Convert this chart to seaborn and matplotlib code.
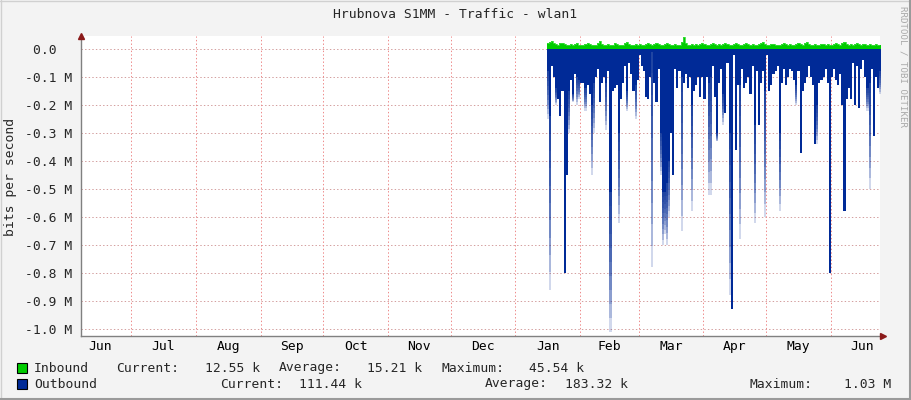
"""
RRD-style traffic graph for wlan1 on Hrubnova S1MM.
Inbound drawn above zero, outbound mirrored below zero.
"""

import pandas as pd
import matplotlib
matplotlib.use('Agg')
import matplotlib.pyplot as plt
import matplotlib.dates as mdates
from matplotlib.lines import Line2D
from matplotlib.patches import Rectangle
import seaborn as sns


# ── Data ───────────────────────────────────────────────────────────────────────

x_start    = '2012-06-07'
x_end      = '2013-06-24 12:00'
data_start = '2013-01-16'

# daily inbound rate, Mbit/s (positive side)
inbound = [
    0.020, 0.026, 0.030, 0.022, 0.018, 0.016, 0.020, 0.023, 0.017, 0.015,
    0.016, 0.019, 0.014, 0.018, 0.021, 0.016, 0.013, 0.015, 0.019, 0.022,
    0.017, 0.015, 0.014, 0.016, 0.020, 0.027, 0.018, 0.016, 0.015, 0.018,
    0.014, 0.016, 0.021, 0.017, 0.015, 0.013, 0.016, 0.020, 0.024, 0.018,
    0.016, 0.014, 0.017, 0.015, 0.019, 0.016, 0.014, 0.017, 0.020, 0.017,
    0.015, 0.019, 0.022, 0.019, 0.016, 0.014, 0.017, 0.021, 0.018, 0.016,
    0.015, 0.017, 0.014, 0.016, 0.026, 0.044, 0.020, 0.016, 0.015, 0.018,
    0.016, 0.019, 0.015, 0.017, 0.022, 0.018, 0.015, 0.014, 0.017, 0.020,
    0.018, 0.016, 0.019, 0.015, 0.017, 0.023, 0.019, 0.016, 0.014, 0.017,
    0.021, 0.018, 0.016, 0.015, 0.018, 0.020, 0.017, 0.015, 0.019, 0.016,
    0.014, 0.017, 0.020, 0.024, 0.018, 0.016, 0.015, 0.017, 0.019, 0.016,
    0.014, 0.016, 0.018, 0.021, 0.017, 0.015, 0.019, 0.016, 0.014, 0.017,
    0.020, 0.018, 0.016, 0.022, 0.025, 0.019, 0.016, 0.015, 0.017, 0.014,
    0.016, 0.019, 0.017, 0.015, 0.018, 0.016, 0.014, 0.017, 0.020, 0.018,
    0.016, 0.021, 0.024, 0.019, 0.016, 0.018, 0.015, 0.017, 0.020, 0.018,
    0.016, 0.019, 0.017, 0.015, 0.018, 0.016, 0.014, 0.017, 0.015, 0.013,
]

# daily outbound average (solid part), Mbit/s, mirrored negative
out_solid = [
    -0.08, -0.24, -0.06, -0.10, -0.14, -0.18, -0.24, -0.15, -0.80, -0.45,
    -0.15, -0.11, -0.16, -0.09, -0.10, -0.11, -0.12, -0.12, -0.14, -0.13,
    -0.16, -0.20, -0.12, -0.10, -0.07, -0.19, -0.12, -0.10, -0.12, -0.08,
    -0.51, -0.15, -0.14, -0.13, -0.30, -0.18, -0.12, -0.06, -0.15, -0.05,
    -0.09, -0.15, -0.13, -0.11, -0.02, -0.06, -0.08, -0.17, -0.18, -0.10,
    -0.01, -0.12, -0.19, -0.07, -0.30, -0.51, -0.51, -0.48, -0.40, -0.30,
    -0.45, -0.07, -0.14, -0.08, -0.10, -0.12, -0.09, -0.14, -0.10, -0.20,
    -0.15, -0.13, -0.10, -0.17, -0.10, -0.18, -0.10, -0.12, -0.10, -0.06,
    -0.17, -0.30, -0.12, -0.07, -0.16, -0.23, -0.05, -0.30, -0.93, -0.02,
    -0.36, -0.13, -0.13, -0.07, -0.14, -0.12, -0.10, -0.16, -0.06, -0.27,
    -0.08, -0.27, -0.12, -0.08, -0.15, -0.02, -0.15, -0.13, -0.09, -0.08,
    -0.06, -0.30, -0.12, -0.07, -0.13, -0.10, -0.07, -0.08, -0.11, -0.13,
    -0.08, -0.37, -0.15, -0.12, -0.10, -0.06, -0.10, -0.13, -0.34, -0.20,
    -0.12, -0.11, -0.10, -0.07, -0.12, -0.80, -0.10, -0.07, -0.11, -0.13,
    -0.09, -0.20, -0.58, -0.18, -0.14, -0.18, -0.05, -0.20, -0.06, -0.21,
    -0.07, -0.04, -0.10, -0.14, -0.12, -0.07, -0.31, -0.10, -0.14, -0.08,
]

# daily outbound peak (faded tail below the solid part), Mbit/s
out_fade = [
    -0.25, -0.86, -0.06, -0.10, -0.20, -0.18, -0.24, -0.15, -0.80, -0.45,
    -0.30, -0.11, -0.19, -0.09, -0.20, -0.18, -0.12, -0.12, -0.22, -0.13,
    -0.16, -0.45, -0.30, -0.10, -0.07, -0.19, -0.12, -0.10, -0.29, -0.08,
    -1.01, -0.15, -0.14, -0.13, -0.62, -0.18, -0.12, -0.06, -0.22, -0.05,
    -0.09, -0.15, -0.25, -0.11, -0.02, -0.06, -0.08, -0.17, -0.18, -0.10,
    -0.78, -0.12, -0.19, -0.07, -0.45, -0.70, -0.66, -0.70, -0.60, -0.30,
    -0.45, -0.07, -0.14, -0.08, -0.65, -0.12, -0.09, -0.14, -0.10, -0.58,
    -0.15, -0.13, -0.10, -0.17, -0.10, -0.18, -0.10, -0.52, -0.52, -0.06,
    -0.17, -0.33, -0.12, -0.07, -0.27, -0.23, -0.05, -0.88, -0.93, -0.02,
    -0.36, -0.13, -0.68, -0.07, -0.14, -0.12, -0.10, -0.16, -0.06, -0.62,
    -0.08, -0.27, -0.12, -0.08, -0.60, -0.02, -0.15, -0.13, -0.09, -0.08,
    -0.06, -0.58, -0.12, -0.07, -0.13, -0.10, -0.07, -0.08, -0.11, -0.20,
    -0.08, -0.37, -0.15, -0.12, -0.10, -0.06, -0.10, -0.13, -0.34, -0.34,
    -0.12, -0.11, -0.10, -0.07, -0.12, -0.80, -0.10, -0.07, -0.11, -0.13,
    -0.09, -0.20, -0.58, -0.18, -0.14, -0.18, -0.05, -0.20, -0.06, -0.21,
    -0.07, -0.04, -0.10, -0.22, -0.50, -0.07, -0.31, -0.10, -0.14, -0.16,
]

y_ticks       = [0.0, -0.1, -0.2, -0.3, -0.4, -0.5, -0.6, -0.7, -0.8, -0.9, -1.0]
y_tick_labels = ['0.0  ', '-0.1 M', '-0.2 M', '-0.3 M', '-0.4 M', '-0.5 M',
                 '-0.6 M', '-0.7 M', '-0.8 M', '-0.9 M', '-1.0 M']
month_labels  = ['Jun', 'Jul', 'Aug', 'Sep', 'Oct', 'Nov', 'Dec',
                 'Jan', 'Feb', 'Mar', 'Apr', 'May', 'Jun']

legend_rows = [
    ('Inbound',  '#00CC00', [('Current:', 116), ('12.55 k', 205), ('Average:', 279),
                             ('15.21 k', 367), ('Maximum:', 441), ('45.54 k', 529)]),
    ('Outbound', '#002A97', [('Current:', 220), ('111.44 k', 299), ('Average:', 485),
                             ('183.32 k', 565), ('Maximum:', 750), ('1.03 M', 844)]),
]

TITLE   = 'Hrubnova S1MM - Traffic - wlan1'
YLABEL  = 'bits per second'
GREEN   = '#00CC00'
BLUE    = '#002A97'
W, H    = 911, 400


# ── Helpers ────────────────────────────────────────────────────────────────────

def _fig_xy(px, py):
    """Pixel position (from top-left) to figure fraction."""
    return px / W, 1 - py / H


# ── Figure ─────────────────────────────────────────────────────────────────────

sns.set_style('white')
plt.rcParams['font.family'] = ['DejaVu Sans Mono']
FS = 9.4

fig = plt.figure(figsize=(W / 100, H / 100), dpi=100, facecolor='#F3F3F3')
ax = fig.add_axes([81 / W, 1 - 336 / H, (880 - 81) / W, (336 - 36) / H])
ax.set_facecolor('white')

edges = pd.date_range(data_start, periods=len(inbound) + 1, freq='D')
frame = pd.DataFrame({
    'date':      edges,
    'inbound':   inbound + inbound[-1:],
    'out_solid': out_solid + out_solid[-1:],
    'out_fade':  out_fade + out_fade[-1:],
})

# grid (under the data), small dots
dot = (0, (1.4, 2.2))
for yv in y_ticks:
    ax.axhline(yv, color='#D4A0A0', lw=0.72, ls=dot, zorder=0)
month_starts = pd.date_range('2012-06-01', '2013-07-01', freq='MS')
for ms in month_starts:
    ax.axvline(ms, color='#EE8C8C', lw=0.72, ls=dot, zorder=0)

# inbound (positive)
ax.fill_between(frame['date'], 0, frame['inbound'], step='post',
                color=GREEN, lw=0, zorder=2)
sns.lineplot(data=frame, x='date', y='inbound', drawstyle='steps-post',
             color='#3BDD3B', lw=0.6, ax=ax, zorder=3)

# outbound faded tails: stacked translucent layers give a top-dark gradient
n_layers = 10
for k in range(1, n_layers + 1):
    tail = frame['out_solid'] + (frame['out_fade'] - frame['out_solid']) * k / n_layers
    ax.fill_between(frame['date'], frame['out_solid'], tail, step='post',
                    color=BLUE, alpha=0.18, lw=0, zorder=2)

# outbound solid body
ax.fill_between(frame['date'], 0, frame['out_solid'], step='post',
                color=BLUE, lw=0, zorder=2)

# ── Axes styling ───────────────────────────────────────────────────────────────

ax.set_xlim(pd.Timestamp(x_start), pd.Timestamp(x_end))
ax.set_ylim(-1.025, 0.0464)
ax.set_xlabel('')
ax.set_ylabel('')

ax.set_yticks(y_ticks)
ax.set_yticklabels(y_tick_labels, fontsize=FS)

ax.xaxis.set_major_locator(mdates.MonthLocator())
ax.xaxis.set_major_formatter(plt.NullFormatter())
month_mids = month_starts[:-1] + (month_starts[1:] - month_starts[:-1]) / 2
ax.set_xticks(month_mids, minor=True)
ax.set_xticklabels(month_labels, minor=True, fontsize=FS)

ax.tick_params(axis='x', which='major', length=3, width=0.8, color='#C09090', direction='out')
ax.tick_params(axis='x', which='minor', length=0, pad=3, colors='#000000')
ax.tick_params(axis='y', length=2, width=0.8, color='#808080', pad=4, direction='out')

for side in ['top', 'right']:
    ax.spines[side].set_visible(False)
for side in ['left', 'bottom']:
    ax.spines[side].set_color('#808080')
    ax.spines[side].set_linewidth(1.0)
    ax.spines[side].set_zorder(5)

# axis arrowheads
ax.plot([0], [1], marker='^', ms=4.5, color='#8B1A1A', transform=ax.transAxes,
        clip_on=False, zorder=6)
ax.plot([1.004], [0], marker='>', ms=4.5, color='#8B1A1A', transform=ax.transAxes,
        clip_on=False, zorder=6)

# ── Text and legend ────────────────────────────────────────────────────────────

fig.text(*_fig_xy(455, 14), TITLE, ha='center', va='center', fontsize=FS)
fig.text(*_fig_xy(11, 177), YLABEL, ha='center', va='center', rotation=90, fontsize=FS)
fig.text(*_fig_xy(903, 6), 'RRDTOOL / TOBI OETIKER', ha='center', va='top',
         rotation=270, fontsize=6.6, color='#AAAAAA')

for row, (name, color, items) in enumerate(legend_rows):
    yc = 368 + row * 16
    x0, y0 = _fig_xy(17, yc + 5)
    fig.patches.append(Rectangle((x0, y0), 10 / W, 10 / H, transform=fig.transFigure,
                                 facecolor=color, edgecolor='black', lw=0.8))
    fig.text(*_fig_xy(34, yc), name, ha='left', va='center', fontsize=FS)
    for label, px in items:
        fig.text(*_fig_xy(px, yc), label, ha='left', va='center', fontsize=FS)

# frame around the image
fig.add_artist(Line2D([0, 1], [1 - 0.5 / H] * 2, transform=fig.transFigure, color='#D0D0D0', lw=1))
fig.add_artist(Line2D([0.5 / W] * 2, [0, 1], transform=fig.transFigure, color='#D0D0D0', lw=1))
fig.add_artist(Line2D([0, 1], [1.5 / H] * 2, transform=fig.transFigure, color='#9A9A9A', lw=1.5))
fig.add_artist(Line2D([1 - 1.5 / W] * 2, [0, 1], transform=fig.transFigure, color='#9A9A9A', lw=1.5))

fig.savefig('out.png', dpi=100, facecolor=fig.get_facecolor())
